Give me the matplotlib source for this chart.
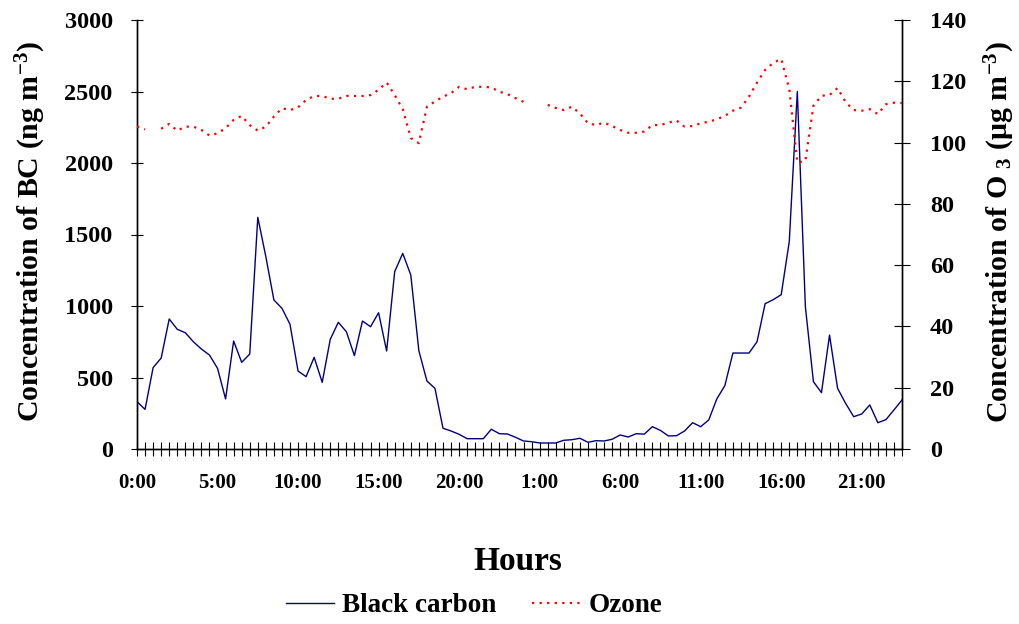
import numpy as np
import matplotlib
matplotlib.use("Agg")
import matplotlib.pyplot as plt
from matplotlib.lines import Line2D

# ---- data (half-hourly, two days) ----
black_carbon = [331, 277, 569, 636, 909, 837, 813, 750, 699, 657,
                564, 350, 755, 606, 664, 1620, 1345, 1042, 984, 872,
                545, 506, 641, 466, 767, 886, 820, 653, 895, 855,
                953, 685, 1240, 1368, 1217, 688, 476, 424, 145, 126,
                103, 72, 72, 72, 138, 107, 105, 82, 56, 51,
                42, 42, 42, 61, 65, 75, 47, 58, 56, 68,
                98, 84, 107, 104, 156, 130, 91, 93, 126, 184,
                156, 203, 350, 443, 671, 671, 671, 750, 1016, 1044,
                1079, 1450, 2500, 995, 471, 394, 797, 424, 319, 226,
                245, 308, 184, 205, 273, 343]
nan = np.nan
ozone = [105.2, 104.3, nan, 104.5, 106.1, 103.9, 105.2, 105.2, 104.1, 102.3,
         103.0, 104.7, 107.4, 108.7, 105.7, 103.9, 105.2, 108.5, 111.2, 110.6,
         111.5, 113.9, 115.2, 115.2, 114.3, 114.3, 115.2, 115.2, 115.2, 115.5,
         117.2, 119.6, 115.5, 110.9, 101.5, 99.8, 111.7, 113.4, 115.0, 116.1,
         118.2, 117.4, 118.2, 118.2, 118.0, 116.6, 115.8, 114.5, 113.3, nan,
         nan, 112.3, 111.3, 110.6, 111.7, 109.5, 106.3, 105.7, 106.5, 105.4,
         104.1, 103.2, 103.2, 103.6, 105.7, 105.7, 106.5, 107.2, 105.2, 105.4,
         106.3, 106.8, 107.6, 108.7, 110.4, 111.4, 115.0, 119.6, 123.7, 126.0,
         127.3, 117.5, 93.5, 94.0, 112.0, 115.3, 115.5, 117.8, 113.2, 110.6,
         110.4, 110.9, 109.3, 112.5, 113.0, 112.9]
tick_labels = ['0:00', '5:00', '10:00', '15:00', '20:00',
               '1:00', '6:00', '11:00', '16:00', '21:00']
label_every = 10

plt.rcParams['font.family'] = ['Liberation Serif', 'DejaVu Serif']
plt.rcParams['font.weight'] = 'bold'
plt.rcParams['mathtext.fontset'] = 'custom'
plt.rcParams['mathtext.rm'] = 'Liberation Serif:bold'
plt.rcParams['mathtext.bf'] = 'Liberation Serif:bold'
plt.rcParams['mathtext.it'] = 'Liberation Serif:bold:italic'
plt.rcParams['mathtext.default'] = 'rm'

fig = plt.figure(figsize=(10.2, 6.24), dpi=100)
ax = fig.add_axes([137/1020, 1-449/624, (902-137)/1020, (449-20)/624])
ax2 = ax.twinx()

x = np.arange(len(black_carbon))
ax.plot(x, black_carbon, color='#000080', lw=1.0, zorder=3)
ax2.plot(x, ozone, color='#FF0000', lw=1.6, linestyle=(0, (1.0, 2.4)), zorder=3)

ax.set_xlim(0, len(black_carbon) - 1)
ax.set_ylim(0, 3000)
ax2.set_ylim(0, 140)
ax.set_yticks(np.arange(0, 3001, 500))
ax2.set_yticks(np.arange(0, 141, 20))

ax.set_xticks(x)
ax.set_xticklabels([tick_labels[i // label_every] if i % label_every == 0 else ''
                    for i in x])

for a in (ax, ax2):
    a.spines['top'].set_visible(False)
    for s in a.spines.values():
        s.set_linewidth(1.0)

ax.tick_params(axis='x', direction='inout', length=10, width=0.8, pad=12,
               labelsize=15)
ax.tick_params(axis='y', direction='inout', length=9, width=0.8, pad=13,
               labelsize=17.5)
ax2.tick_params(axis='y', direction='inout', length=12, width=0.8, pad=14,
                labelsize=17.5)
for lab in ax.get_xticklabels() + ax.get_yticklabels() + ax2.get_yticklabels():
    lab.set_fontweight('bold')

fig.text(31/1020, 1-232/624, r'Concentration of BC (ng m$^{-3}$)',
         rotation=90, ha='center', va='center', fontsize=21.5, fontweight='bold')
fig.text(1000/1020, 1-232/624, r'Concentration of O $_{3}$ ($\mu$g m$^{-3}$)',
         rotation=90, ha='center', va='center', fontsize=21.5, fontweight='bold')
fig.text(518/1020, 1-562/624, 'Hours', ha='center', va='center',
         fontsize=24, fontweight='bold')

handles = [Line2D([], [], color='#000080', lw=1.0),
           Line2D([], [], color='#FF0000', lw=1.6, linestyle=(0, (1.0, 2.4)))]
fig.legend(handles, ['Black carbon', 'Ozone'], loc='center',
           bbox_to_anchor=(474/1020, 1-606/624), ncol=2, frameon=False,
           prop={'family': 'Liberation Serif', 'weight': 'bold', 'size': 19.5},
           handlelength=1.8, handletextpad=0.3, columnspacing=1.3)

fig.savefig('out.png', dpi=100)
